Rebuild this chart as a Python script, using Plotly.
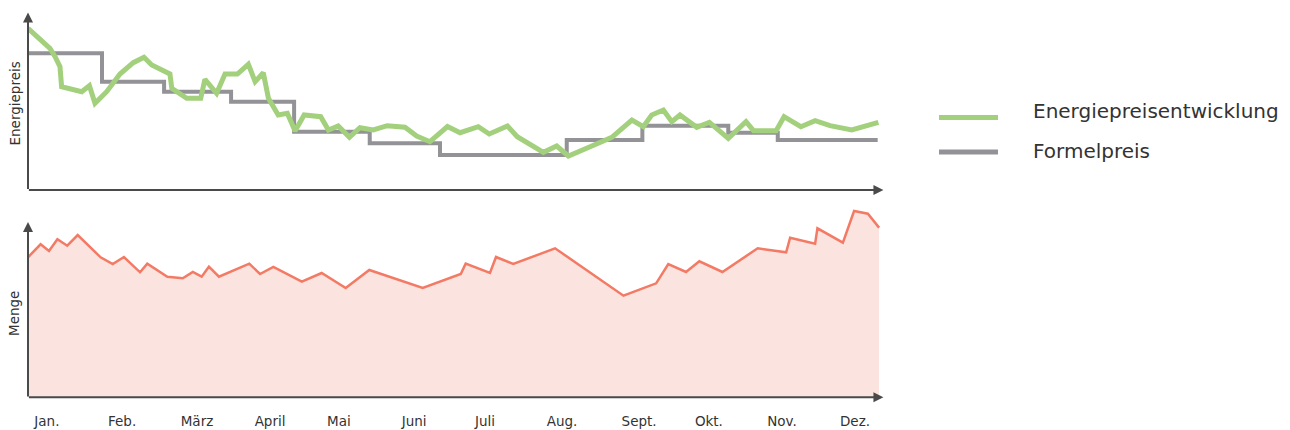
import plotly.graph_objects as go

# ---------------- data ----------------
month_labels = ["Jan.", "Feb.", "März", "April", "Mai", "Juni", "Juli", "Aug.", "Sept.", "Okt.", "Nov.", "Dez."]
month_days = [8.1, 40.3, 72.4, 103.7, 133.2, 165.4, 195.8, 228.8, 261.8, 291.7, 323.0, 354.3]

# Energiepreisentwicklung (day of year, price index)
energy_days = [0, 9.4, 11.6, 13.7, 14.4, 23.0, 26.3, 28.7, 33.7, 39.4, 45.1, 49.7, 53.0, 60.8, 61.6,
               68.0, 74.0, 75.8, 80.8, 84.4, 89.7, 94.4, 97.3, 100.8, 103.0, 107.2, 111.1, 114.4,
               118.3, 125.4, 128.7, 132.9, 137.7, 142.2, 147.9, 153.9, 161.5, 166.5, 172.2, 179.7,
               185.1, 192.9, 197.6, 205.4, 209.6, 220.8, 226.5, 231.5, 240.8, 250.1, 258.7, 263.6,
               267.2, 272.2, 275.8, 279.3, 286.5, 291.9, 300.0, 307.6, 310.8, 320.5, 323.9, 331.1,
               337.2, 343.6, 352.9, 364.3]
energy_price = [16.17, 14.17, 13.33, 12.33, 10.33, 9.83, 10.43, 8.67, 9.83, 11.6, 12.73, 13.27, 12.5,
                11.6, 10.17, 9.17, 9.17, 11.07, 9.67, 11.6, 11.6, 12.57, 10.83, 11.73, 9.17, 7.5,
                7.67, 5.9, 7.5, 7.33, 6.0, 6.4, 5.27, 6.23, 6.0, 6.43, 6.27, 5.4, 4.83, 6.35,
                5.73, 6.33, 5.6, 6.4, 5.33, 3.77, 4.4, 3.4, 4.33, 5.27, 7.0, 6.33, 7.5, 8.0,
                6.83, 7.5, 6.27, 6.77, 5.17, 6.83, 5.93, 5.93, 7.33, 6.33, 6.93, 6.43, 6.0, 6.77]

# Formelpreis (step starts)
formula_days = [0, 31.7, 58.3, 87.0, 114.0, 146.4, 176.5, 230.8, 263.2, 300.0, 321.2, 364.0]
formula_price = [13.67, 10.83, 9.83, 8.83, 5.83, 4.67, 3.5, 5.0, 6.43, 5.73, 5.0, 5.0]

# Menge
volume_days = [0, 5.4, 9.0, 12.6, 16.8, 21.3, 31.1, 36.3, 41.1, 48.0, 51.1, 59.7, 66.3, 70.6, 74.4,
               77.5, 81.8, 94.8, 99.4, 105.1, 117.3, 125.8, 136.1, 146.2, 169.1, 185.4, 187.5,
               197.9, 200.5, 207.9, 225.8, 255.1, 269.1, 274.3, 281.9, 287.6, 297.5, 312.6, 324.8,
               326.5, 337.2, 338.2, 349.1, 353.9, 359.8, 364.6]
volume = [14.0, 15.3, 14.63, 15.8, 15.16, 16.23, 14.0, 13.33, 14.03, 12.5, 13.36, 12.06, 11.9, 12.53,
          12.06, 13.06, 12.06, 13.36, 12.33, 13.03, 11.56, 12.43, 10.93, 12.73, 10.93, 12.33, 13.36,
          12.43, 14.03, 13.33, 14.9, 10.16, 11.4, 13.33, 12.53, 13.6, 12.53, 14.9, 14.5, 15.96,
          15.36, 16.9, 15.46, 18.63, 18.36, 16.96]

legend_names = ["Energiepreisentwicklung", "Formelpreis"]

# ---------------- styles ----------------
GREEN = "#a3d07c"
GREY = "#939397"
RED = "#f37a64"
RED_FILL = "#fbe4df"
AXIS = "#4a4a4a"
TEXT = "#333333"
FONT = "DejaVu Sans"

W, H = 1290, 430


def px_x(p):
    return p / W


def px_y(p):
    return 1 - p / H


fig = go.Figure()

fig.add_trace(go.Scatter(x=formula_days, y=formula_price, mode="lines", line_shape="hv",
                         line=dict(color=GREY, width=4), name=legend_names[1],
                         xaxis="x", yaxis="y", showlegend=False))
fig.add_trace(go.Scatter(x=energy_days, y=energy_price, mode="lines",
                         line=dict(color=GREEN, width=5), name=legend_names[0],
                         xaxis="x", yaxis="y", showlegend=False))
fig.add_trace(go.Scatter(x=volume_days, y=volume, mode="lines", fill="tozeroy",
                         fillcolor=RED_FILL, line=dict(color=RED, width=2.5), name="Menge",
                         xaxis="x2", yaxis="y2", showlegend=False))

xdom = [px_x(28), px_x(880)]
ax_common = dict(range=[0, 365], showgrid=False, zeroline=False, showline=False, fixedrange=True)
fig.update_layout(
    width=W, height=H,
    margin=dict(l=0, r=0, t=0, b=0),
    paper_bgcolor="white", plot_bgcolor="rgba(0,0,0,0)",
    font=dict(family=FONT, color=TEXT),
    xaxis=dict(domain=xdom, anchor="y", showticklabels=False, ticks="", **ax_common),
    yaxis=dict(domain=[px_y(190), px_y(13)], range=[0, 17.7], anchor="x",
               showgrid=False, zeroline=False, showline=False, showticklabels=False),
    xaxis2=dict(domain=xdom, anchor="y2", tickvals=month_days, ticktext=month_labels,
                ticks="outside", ticklen=11, tickcolor="rgba(0,0,0,0)",
                tickfont=dict(family=FONT, size=13.5, color=TEXT), **ax_common),
    yaxis2=dict(domain=[px_y(397.3), px_y(205)], range=[0, 19.23], anchor="x2",
                showgrid=False, zeroline=False, showline=False, showticklabels=False),
)

# axes with arrowheads
arrow_style = dict(text="", showarrow=True, arrowhead=2, arrowsize=1, arrowwidth=2,
                   arrowcolor=AXIS, axref="pixel", ayref="pixel")
fig.add_annotation(xref="x domain", yref="y domain", x=0, y=1.003, ax=0, ay=178, **arrow_style)
fig.add_annotation(xref="x domain", yref="y domain", x=1.004, y=0, ax=-856, ay=0, **arrow_style)
fig.add_annotation(xref="x2 domain", yref="y2 domain", x=0, y=0.912, ax=0, ay=176, **arrow_style)
fig.add_annotation(xref="x2 domain", yref="y2 domain", x=1.004, y=0, ax=-856, ay=0, **arrow_style)

# axis titles
fig.add_annotation(xref="paper", yref="paper", x=px_x(14), y=px_y(103.5), text="Energiepreis",
                   textangle=-90, showarrow=False, xanchor="center", yanchor="middle",
                   font=dict(family=FONT, size=13.5, color=TEXT))
fig.add_annotation(xref="paper", yref="paper", x=px_x(14), y=px_y(314), text="Menge",
                   textangle=-90, showarrow=False, xanchor="center", yanchor="middle",
                   font=dict(family=FONT, size=13.5, color=TEXT))

# legend
for name, col, ypx, typx in [(legend_names[0], GREEN, 117.5, 111.5),
                             (legend_names[1], GREY, 152, 151)]:
    fig.add_shape(type="line", xref="paper", yref="paper", x0=px_x(939), x1=px_x(998),
                  y0=px_y(ypx), y1=px_y(ypx), line=dict(color=col, width=5))
    fig.add_annotation(xref="paper", yref="paper", x=px_x(1031), y=px_y(typx), text=name,
                       xanchor="left", yanchor="middle", showarrow=False,
                       font=dict(family=FONT, size=20, color=TEXT))

fig.write_html("out.html", config={"displayModeBar": False},
               post_script="document.body.style.margin='0';document.body.style.overflow='hidden';")
